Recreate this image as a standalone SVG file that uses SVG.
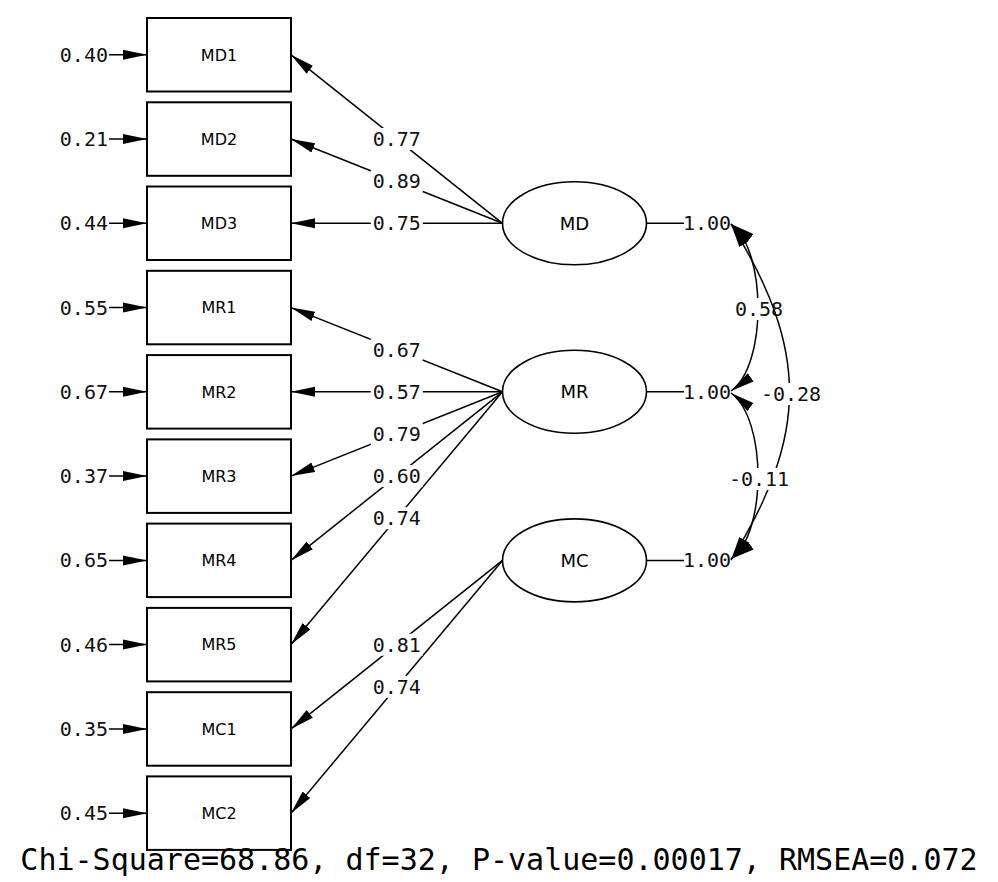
<svg xmlns="http://www.w3.org/2000/svg" width="998" height="882" viewBox="0 0 998 882">
<style>
.box{fill:#fff;stroke:#000;stroke-width:2}
.ell{fill:#fff;stroke:#000;stroke-width:1.6}
.nl{font-family:"DejaVu Sans","Liberation Sans",sans-serif;font-size:16px;text-anchor:middle;fill:#000}
.el{font-family:"DejaVu Sans","Liberation Sans",sans-serif;font-size:18px;text-anchor:middle;fill:#000}
.num{font-family:"DejaVu Sans Mono","Liberation Mono",monospace;font-size:20px;fill:#111}
.mid{text-anchor:middle}
.end{text-anchor:end}
.ln{stroke:#000;stroke-width:1.5;fill:none}
.bg{fill:#fff}
</style>
<defs>
<marker id="ah" viewBox="-24 -6 24 12" refX="0" refY="0" markerWidth="24" markerHeight="12" markerUnits="userSpaceOnUse" orient="auto-start-reverse">
<path d="M0,0 L-24,-5 L-24,5 Z" fill="#000"/>
</marker>
</defs>

<g id="connectors">
<g class="ln" marker-end="url(#ah)">
<line x1="109" y1="54.8" x2="147" y2="54.8"/>
<line x1="109" y1="139" x2="147" y2="139"/>
<line x1="109" y1="223.3" x2="147" y2="223.3"/>
<line x1="109" y1="307.6" x2="147" y2="307.6"/>
<line x1="109" y1="391.8" x2="147" y2="391.8"/>
<line x1="109" y1="476.1" x2="147" y2="476.1"/>
<line x1="109" y1="560.4" x2="147" y2="560.4"/>
<line x1="109" y1="644.6" x2="147" y2="644.6"/>
<line x1="109" y1="728.9" x2="147" y2="728.9"/>
<line x1="109" y1="813.2" x2="147" y2="813.2"/>
</g>
<g class="num end">
<text x="108" y="61.8">0.40</text>
<text x="108" y="146">0.21</text>
<text x="108" y="230.3">0.44</text>
<text x="108" y="314.6">0.55</text>
<text x="108" y="398.8">0.67</text>
<text x="108" y="483.1">0.37</text>
<text x="108" y="567.4">0.65</text>
<text x="108" y="651.6">0.46</text>
<text x="108" y="735.9">0.35</text>
<text x="108" y="820.2">0.45</text>
</g>
<g class="ln" marker-end="url(#ah)">
<line x1="502.5" y1="223.3" x2="291" y2="54.8"/>
<line x1="502.5" y1="223.3" x2="291" y2="139"/>
<line x1="502.5" y1="223.3" x2="291" y2="223.3"/>
<line x1="502.5" y1="391.8" x2="291" y2="307.6"/>
<line x1="502.5" y1="391.8" x2="291" y2="391.8"/>
<line x1="502.5" y1="391.8" x2="291" y2="476.1"/>
<line x1="502.5" y1="391.8" x2="291" y2="560.4"/>
<line x1="502.5" y1="391.8" x2="291" y2="644.6"/>
<line x1="502.5" y1="560.4" x2="291" y2="728.9"/>
<line x1="502.5" y1="560.4" x2="291" y2="813.2"/>
</g>
<g class="bg">
<rect x="370.75" y="128" width="52" height="22"/>
<rect x="370.75" y="170.2" width="52" height="22"/>
<rect x="370.75" y="212.3" width="52" height="22"/>
<rect x="370.75" y="338.7" width="52" height="22"/>
<rect x="370.75" y="380.8" width="52" height="22"/>
<rect x="370.75" y="423" width="52" height="22"/>
<rect x="370.75" y="465.1" width="52" height="22"/>
<rect x="370.75" y="507.2" width="52" height="22"/>
<rect x="370.75" y="633.7" width="52" height="22"/>
<rect x="370.75" y="675.8" width="52" height="22"/>
</g>
<g class="num mid">
<text x="396.75" y="146">0.77</text>
<text x="396.75" y="188.2">0.89</text>
<text x="396.75" y="230.3">0.75</text>
<text x="396.75" y="356.7">0.67</text>
<text x="396.75" y="398.8">0.57</text>
<text x="396.75" y="441">0.79</text>
<text x="396.75" y="483.1">0.60</text>
<text x="396.75" y="525.2">0.74</text>
<text x="396.75" y="651.7">0.81</text>
<text x="396.75" y="693.8">0.74</text>
</g>
<g class="ln">
<line x1="646.5" y1="223.3" x2="684" y2="223.3"/>
<line x1="646.5" y1="391.8" x2="684" y2="391.8"/>
<line x1="646.5" y1="560.4" x2="684" y2="560.4"/>
</g>
<g class="num">
<text x="683" y="230.3">1.00</text>
<text x="683" y="398.8">1.00</text>
<text x="683" y="567.4">1.00</text>
</g>
<path class="ln" d="M731,224 C767,250 767,366 731,391" marker-start="url(#ah)" marker-end="url(#ah)"/>
<rect class="bg" x="734" y="298" width="50" height="22"/>
<text class="num mid" x="759" y="316">0.58</text>
<path class="ln" d="M731,224 C809,350 809,434 731,560" marker-start="url(#ah)" marker-end="url(#ah)"/>
<rect class="bg" x="760" y="383" width="62" height="22"/>
<text class="num mid" x="791" y="401">-0.28</text>
<path class="ln" d="M731,393 C767,419 767,534 731,559" marker-start="url(#ah)" marker-end="url(#ah)"/>
<rect class="bg" x="728" y="468" width="62" height="22"/>
<text class="num mid" x="759" y="486">-0.11</text>
</g>

<g id="MD1"><rect class="box" x="147" y="18" width="144" height="73.5"/><text class="nl" x="219" y="60.6">MD1</text></g>
<g id="MD2"><rect class="box" x="147" y="102.3" width="144" height="73.5"/><text class="nl" x="219" y="144.8">MD2</text></g>
<g id="MD3"><rect class="box" x="147" y="186.5" width="144" height="73.5"/><text class="nl" x="219" y="229.1">MD3</text></g>
<g id="MR1"><rect class="box" x="147" y="270.8" width="144" height="73.5"/><text class="nl" x="219" y="313.4">MR1</text></g>
<g id="MR2"><rect class="box" x="147" y="355.1" width="144" height="73.5"/><text class="nl" x="219" y="397.6">MR2</text></g>
<g id="MR3"><rect class="box" x="147" y="439.4" width="144" height="73.5"/><text class="nl" x="219" y="481.9">MR3</text></g>
<g id="MR4"><rect class="box" x="147" y="523.6" width="144" height="73.5"/><text class="nl" x="219" y="566.2">MR4</text></g>
<g id="MR5"><rect class="box" x="147" y="607.9" width="144" height="73.5"/><text class="nl" x="219" y="650.4">MR5</text></g>
<g id="MC1"><rect class="box" x="147" y="692.2" width="144" height="73.5"/><text class="nl" x="219" y="734.7">MC1</text></g>
<g id="MC2"><rect class="box" x="147" y="776.4" width="144" height="73.5"/><text class="nl" x="219" y="819">MC2</text></g>

<g id="MD"><ellipse class="ell" cx="574.5" cy="223.3" rx="72" ry="41.5"/><text class="el" x="574.5" y="229.8">MD</text></g>
<g id="MR"><ellipse class="ell" cx="574.5" cy="391.8" rx="72" ry="41.5"/><text class="el" x="574.5" y="398.3">MR</text></g>
<g id="MC"><ellipse class="ell" cx="574.5" cy="560.4" rx="72" ry="41.5"/><text class="el" x="574.5" y="566.9">MC</text></g>

<text id="title" x="499" y="870" style="font-family:'DejaVu Sans Mono','Liberation Mono',monospace;font-size:30px;text-anchor:middle;fill:#000">Chi-Square=68.86, df=32, P-value=0.00017, RMSEA=0.072</text>
</svg>
